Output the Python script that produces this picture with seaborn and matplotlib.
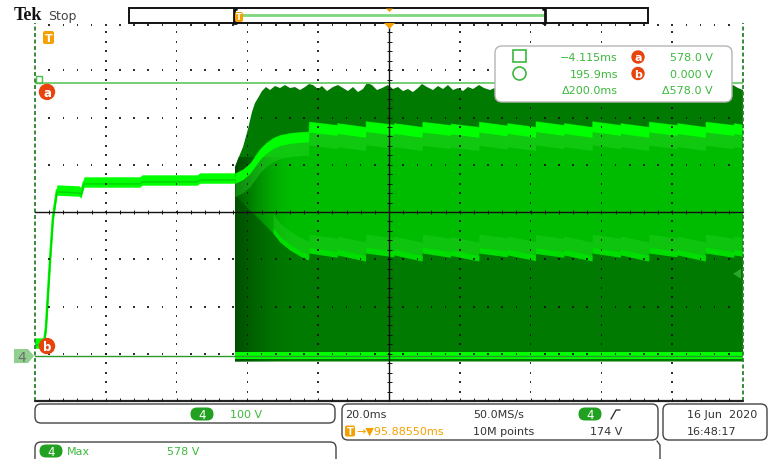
import numpy as np
import matplotlib
matplotlib.use("Agg")
import matplotlib.pyplot as plt
from matplotlib.patches import FancyBboxPatch, Rectangle, Circle, Polygon
from matplotlib.collections import LineCollection
import seaborn as sns

sns.set_style("white")
plt.rcParams["font.family"] = ["DejaVu Sans"]

W, H = 769, 460

# ---- acquisition settings (channel 4) ----
MS_PER_DIV = 20.0
VOLTS_PER_DIV = 100.0
TRIG_DELAY_MS = 95.8855          # time at screen centre relative to trigger
CENTER_V = 304.8                 # voltage at screen centre
TRIG_LEVEL_V = 174.0
SAMPLE_RATE = "50.0MS/s"
RECORD_LEN = "10M points"
MEAS_MAX_V = 578

# ---- cursors ----
cursor_t = [-4.115, 195.9]
cursor_v = [578.0, 0.0]

# ---- trace before the switching burst: time (ms), voltage (V) ----
ramp_t = [-4.12, -1.57, -1.01, 0.12, 0.97, 2.10, 8.31, 8.88, 9.73, 25.55, 26.11, 41.65, 42.50, 52.38]
ramp_v = [27.5, 27.5, 61.4, 201.1, 294.2, 351.3, 349.2, 345.0, 368.3, 368.3, 372.5, 372.5, 376.7, 376.7]

# ---- upper ridge of the burst (top edge) ----
upper_lead_t = [52.38, 54.64, 56.62, 58.03, 59.44, 61.14, 63.12, 65.09, 67.92, 70.74, 73.14]
upper_lead_v = [387.3, 395.8, 408.5, 423.3, 438.1, 450.8, 461.4, 467.7, 472.0, 474.1, 475.1]

# ripple steps (8 ms period)
step_t = [73.3, 81.3, 89.3, 97.3, 105.3, 113.3, 121.3, 129.3,
          137.3, 145.3, 153.3, 161.3, 169.3, 177.3, 185.3, 193.3]
upper_peak_v = [496, 493, 497, 493, 496, 492, 496, 493, 497, 493, 497, 493, 496, 493, 496, 493]
upper_trough_v = [489, 485, 490, 485, 489, 485, 488, 485, 489, 485, 489, 485, 489, 485, 489, 490]

# ---- lower ridge of the burst (bottom edge) ----
lower_lead_t = [63.12, 65.09, 67.92, 70.74, 73.14]
lower_lead_v = [260.3, 241.3, 224.3, 211.6, 203.2]
lower_peak_v = [218, 214, 218, 214, 218, 213, 218, 214, 217, 214, 218, 214, 218, 214, 218, 214]
lower_trough_v = [209, 201, 210, 201, 209, 201, 210, 202, 209, 201, 209, 201, 210, 201, 209, 211]

# ---- peak envelope of the burst ----
env_t = [52.38, 53.23, 54.64, 56.05, 57.18, 58.03, 58.88, 60.01, 61.14, 62.27, 63.68, 65.09,
         66.51, 67.92, 69.33, 70.74, 72.16, 73.29, 74.42, 75.83, 76.96, 78.37, 80.07, 81.48,
         82.89, 84.30, 85.71, 87.13, 88.54, 89.67, 91.08, 92.50, 93.91, 95.60, 97.01, 98.43,
         99.84, 101.25, 102.66, 104.08, 105.21, 106.62, 108.32, 109.73, 111.14, 112.55, 113.97,
         115.38, 116.79, 118.20, 119.62, 121.31, 122.72, 124.42, 126.40, 128.66, 130.63, 132.89,
         135.15, 137.13, 139.11, 141.37, 143.34, 145.04, 147.02, 149.28, 151.25, 153.23, 154.93,
         156.91, 158.88, 161.14, 163.12, 165.10, 167.08, 169.06, 171.03, 173.01, 174.99, 176.96,
         178.94, 180.92, 182.90, 185.16, 187.13, 189.11, 191.09, 193.07, 194.48, 195.89]
env_v = [400.0, 416.9, 442.3, 480.4, 516.4, 535.4, 546.0, 560.8, 569.3, 563.0, 571.4, 567.2,
         573.5, 567.2, 569.3, 563.0, 569.3, 575.7, 573.5, 565.1, 571.4, 560.8, 569.3, 573.5,
         567.2, 560.8, 569.3, 558.7, 565.1, 577.8, 573.5, 563.0, 567.2, 573.5, 565.1, 569.3,
         560.8, 565.1, 558.7, 567.2, 575.7, 569.3, 563.0, 571.4, 565.1, 573.5, 563.0, 567.2,
         560.8, 569.3, 565.1, 573.5, 567.2, 563.0, 569.3, 560.8, 567.2, 571.4, 563.0, 575.7,
         569.3, 560.8, 567.2, 573.5, 565.1, 560.8, 569.3, 575.7, 567.2, 563.0, 569.3, 573.5,
         565.1, 560.8, 567.2, 575.7, 569.3, 563.0, 567.2, 573.5, 565.1, 560.8, 569.3, 575.7,
         569.3, 563.0, 567.2, 573.5, 567.2, 563.0]

BURST_FLOOR_V = -11.6
FLOOR_BAND_V = (-6.3, 9.5)

T_END = TRIG_DELAY_MS + 5 * MS_PER_DIV


def ridge(lead_t, lead_v, peaks, troughs):
    ts, vs = list(lead_t), list(lead_v)
    for i, t0 in enumerate(step_t):
        t1 = step_t[i + 1] if i + 1 < len(step_t) else T_END
        ts += [t0, t1 - 0.05]
        vs += [peaks[i], troughs[i]]
    return np.array(ts), np.array(vs, dtype=float)


up_t, up_v = ridge(upper_lead_t, upper_lead_v, upper_peak_v, upper_trough_v)
lo_t, lo_v = ridge(lower_lead_t, lower_lead_v, lower_peak_v, lower_trough_v)

# ---------------- figure & screen geometry ----------------
fig = plt.figure(figsize=(W / 100, H / 100), dpi=100)
fig.patch.set_facecolor("white")
L, R, T, B = 35, 743, 24, 402
ax = fig.add_axes([L / W, 1 - B / H, (R - L) / W, (B - T) / H])
ax.axis("off")

# persistence burst: dark body
dark = ax.fill(np.r_[env_t, env_t[-1], env_t[0]],
               np.r_[env_v, BURST_FLOOR_V, BURST_FLOOR_V],
               color="#007a00", lw=0, zorder=2)[0]

# brighter body between the two ridges
mid_t = np.r_[up_t, lo_t[::-1], env_t[0]]
mid_v = np.r_[up_v, lo_v[::-1], 340.0]
ax.fill(mid_t, mid_v, color="#00bc00", lw=0, zorder=2.2)

# darker onset of the burst
grad = np.zeros((1, 80, 4))
grad[..., 1] = 70 / 255
grad[..., 3] = np.linspace(0.9, 0.0, 80) ** 1.6
im = ax.imshow(grad, extent=[env_t[0], 69.0, -30, 420], aspect="auto",
               interpolation="bilinear", zorder=2.5)
im.set_clip_path(dark)

# upper ridge
ax.fill_between(up_t, up_v - 50, up_v - 20, color="#2ee02e", alpha=0.35, lw=0, zorder=3)
ax.fill_between(up_t, up_v - 22, up_v, color="#00ff00", lw=0, zorder=3.1)
# lower ridge
ax.fill_between(lo_t, lo_v + 11, lo_v + 40, color="#30d830", alpha=0.3, lw=0, zorder=3)
ax.fill_between(lo_t, lo_v, lo_v + 12, color="#00dd00", lw=0, zorder=3.1)
# floor band
ax.fill_between([env_t[0], T_END], FLOOR_BAND_V[0], FLOOR_BAND_V[1], color="#00ff00", lw=0, zorder=3.1)

# pre-burst trace
rt, rv = np.array(ramp_t), np.array(ramp_v)
ax.fill_between(rt, rv - 11, rv + 11, color="#00ff00", lw=0, zorder=3.2)
sns.lineplot(x=rt, y=rv, ax=ax, color="#00ff00", lw=1.8, zorder=3.3)
sns.lineplot(x=rt, y=rv - 4, ax=ax, color="#00a000", lw=1.0, alpha=0.45, zorder=3.3)

# cursors
ax.axhline(cursor_v[0], color="#6acb6a", lw=1.3, zorder=4)
ax.axhline(cursor_v[1], color="#2a9a2a", lw=1.0, zorder=4)
for tc in cursor_t:
    ax.axvline(tc, color="#2b7f2b", lw=1.3, ls=(0, (2.2, 1.4)), zorder=6, clip_on=False)

ax.set_xlim(TRIG_DELAY_MS - 5 * MS_PER_DIV, T_END)
ax.set_ylim(CENTER_V - 4 * VOLTS_PER_DIV, CENTER_V + 4 * VOLTS_PER_DIV)
if ax.get_legend():
    ax.get_legend().remove()


def px(t, v):
    x, y = ax.transData.transform((t, v))
    return x, H - y


# ---------------- screen overlay ----------------
ov = fig.add_axes([0, 0, 1, 1], zorder=5)
ov.set_xlim(0, W)
ov.set_ylim(H, 0)
ov.axis("off")
ov.patch.set_alpha(0)

dx, dy = (R - L) / 10, (B - T) / 8
cx, cy = L + 5 * dx, T + 4 * dy
dots = []
for k in range(1, 10):
    if k == 5:
        continue
    for j in range(1, 40):
        dots.append((L + k * dx, T + j * dy / 5))
for k in range(1, 8):
    if k == 4:
        continue
    for j in range(1, 50):
        dots.append((L + j * dx / 5, T + k * dy))
for j in range(1, 50):
    dots.append((L + j * dx / 5, T + 1.5))
ov.add_collection(LineCollection([[(x - 0.8, y), (x + 0.8, y)] for x, y in dots],
                                 colors="#111111", linewidths=1.25, zorder=2))

ov.plot([L, R], [cy, cy], color="#111", lw=1.0, zorder=2)
ov.plot([cx, cx], [T, B], color="#111", lw=1.0, zorder=2)
ov.plot([L, R], [B, B], color="#222", lw=1.6, zorder=2)
ticks = []
for j in range(1, 50):
    x = L + j * dx / 5
    ticks.append([(x, cy - 2), (x, cy + 2)])
    ticks.append([(x, B), (x, B - 3)])
for j in range(1, 40):
    y = T + j * dy / 5
    ticks.append([(cx - 2.5, y), (cx + 2.5, y)])
ov.add_collection(LineCollection(ticks, colors="#111", linewidths=0.7, zorder=2))

GREEN_TXT = "#3db83d"
ORANGE = "#f5a000"
BADGE_RED = "#e8430c"
PILL = "#22a022"


def badge(x, y, letter, r=6.5, fs=8.5):
    ov.add_patch(Circle((x, y), r, color=BADGE_RED, zorder=8))
    ov.text(x, y + 0.3, letter, color="white", fontsize=fs, fontweight="bold",
            ha="center", va="center", zorder=9)


def pill(x, y, label, w=23, h=13):
    ov.add_patch(FancyBboxPatch((x - w / 2, y - h / 2), w, h,
                                boxstyle=f"round,pad=0,rounding_size={h / 2}",
                                fc=PILL, ec="none", zorder=8))
    ov.text(x, y + 0.3, label, color="white", fontsize=8.5, ha="center", va="center", zorder=9)


def tbadge(x, y, w=10, h=12, fs=7.5):
    ov.add_patch(FancyBboxPatch((x - w / 2, y - h / 2), w, h,
                                boxstyle="round,pad=0,rounding_size=2",
                                fc=ORANGE, ec="none", zorder=8))
    ov.text(x, y, "T", color="white", fontsize=fs, fontweight="bold",
            ha="center", va="center", zorder=9)


def rbox(x0, y0, x1, y1, ec="#444", lw=1.0, r=6):
    ov.add_patch(FancyBboxPatch((x0, y0), x1 - x0, y1 - y0,
                                boxstyle=f"round,pad=0,rounding_size={r}",
                                fc="white", ec=ec, lw=lw, zorder=7))


# cursor handles and labels
_, ya = px(cursor_t[0], cursor_v[0])
_, yb = px(cursor_t[0], cursor_v[1])
ov.add_patch(Rectangle((36, ya - 7), 6, 7, fc="none", ec="#4cbb4c", lw=1.0, zorder=8))
badge(47, ya + 9, "a", r=7.5)
badge(47, yb - 10, "b", r=7.5)

# ground marker
ov.add_patch(Polygon([(14, yb - 7), (28, yb - 7), (34, yb), (28, yb + 7), (14, yb + 7)],
                     closed=True, fc="#8fd08f", ec="none", zorder=8))
ov.text(21.5, yb + 0.5, "4", color="#6e6e6e", fontsize=10, ha="center", va="center", zorder=9)

# trigger level marker
_, yt = px(T_END, TRIG_LEVEL_V)
ov.add_patch(Polygon([(733, yt), (741, yt - 5), (741, yt + 5)], closed=True,
                     fc="#2aa62a", ec="none", zorder=8))

# left trigger badge
tbadge(48.5, 38.5, w=11, h=13, fs=8)

# header
ov.text(14, 16, "Tek", fontsize=13, fontweight="bold", family=["Liberation Serif", "DejaVu Serif"],
        ha="left", va="center", color="#111")
ov.text(48, 16.5, "Stop", fontsize=9, ha="left", va="center", color="#444")

# record view bar
ov.add_patch(Rectangle((129, 9), 519, 15, fc="white", ec="#111", lw=1.4, zorder=7))
ov.plot([240, 544], [15.5, 15.5], color="#7fd67f", lw=2.0, zorder=8)
for xb, s in [(234, 1), (545, -1)]:
    ov.plot([xb + 2 * s, xb, xb, xb + 2 * s], [9.5, 9.5, 23.5, 23.5], color="#111", lw=2.0, zorder=8)
tbadge(239, 18, w=8, h=10, fs=6)
ov.add_patch(Polygon([(386, 9.5), (393, 9.5), (389.5, 13)], closed=True, fc=ORANGE, ec="none", zorder=8))
ov.add_patch(Polygon([(384, 24), (395, 24), (389.5, 30)], closed=True, fc=ORANGE, ec="none", zorder=8))

# cursor readout
rbox(495, 47, 732, 103, ec="#b5b5b5", lw=1.0, r=7)
ov.add_patch(Rectangle((513, 51), 13, 12, fc="none", ec=GREEN_TXT, lw=1.2, zorder=8))
ov.add_patch(Circle((519.5, 74.5), 6.5, fc="none", ec=GREEN_TXT, lw=1.2, zorder=8))
dt = cursor_t[1] - cursor_t[0]
dv = cursor_v[0] - cursor_v[1]
rows = [(58, f"\u2212{abs(cursor_t[0]):.3f}ms", f"{cursor_v[0]:.1f} V", "a"),
        (74.5, f"{cursor_t[1]:.1f}ms", f"{cursor_v[1]:.3f} V", "b"),
        (91, f"\u0394{dt:.1f}ms", f"\u0394{dv:.1f} V", None)]
for y, ttxt, vtxt, lab in rows:
    ov.text(618, y, ttxt, color=GREEN_TXT, fontsize=8, ha="right", va="center", zorder=9)
    ov.text(713, y, vtxt, color=GREEN_TXT, fontsize=8, ha="right", va="center", zorder=9)
    if lab:
        badge(638, y, lab, r=6, fs=8)

# bottom status panels
rbox(35, 405, 335, 424)
pill(202, 415, "4")
ov.text(230, 415, f"{VOLTS_PER_DIV:.0f} V", color=GREEN_TXT, fontsize=8, ha="left", va="center", zorder=9)

rbox(342, 405, 658, 441)
ov.text(345, 415, f"{MS_PER_DIV:.1f}ms", color="#333", fontsize=8, ha="left", va="center", zorder=9)
ov.text(473, 415, SAMPLE_RATE, color="#333", fontsize=8, ha="left", va="center", zorder=9)
pill(590, 415, "4")
ov.plot([611, 616, 620], [420, 411, 411], color="#333", lw=1.0, zorder=9)
tbadge(350, 432, w=10, h=11, fs=7)
ov.text(356, 432, f"\u2192\u25bc{TRIG_DELAY_MS:.5f}ms", color=ORANGE, fontsize=8,
        ha="left", va="center", zorder=9)
ov.text(473, 432, RECORD_LEN, color="#333", fontsize=8, ha="left", va="center", zorder=9)
ov.text(590, 432, f"{TRIG_LEVEL_V:.0f} V", color="#333", fontsize=8, ha="left", va="center", zorder=9)

rbox(663, 405, 767, 441)
ov.text(687, 415, "16 Jun  2020", color="#333", fontsize=8, ha="left", va="center", zorder=9)
ov.text(687, 432, "16:48:17", color="#333", fontsize=8, ha="left", va="center", zorder=9)
ov.plot([657, 660, 660], [442, 446, 462], color="#444", lw=1.0, zorder=9)

rbox(35, 443, 336, 475)
pill(51, 452, "4")
ov.text(67, 452, "Max", color=GREEN_TXT, fontsize=8, ha="left", va="center", zorder=9)
ov.text(167, 452, f"{MEAS_MAX_V} V", color=GREEN_TXT, fontsize=8, ha="left", va="center", zorder=9)

fig.savefig("out.png", dpi=100, facecolor="white")
